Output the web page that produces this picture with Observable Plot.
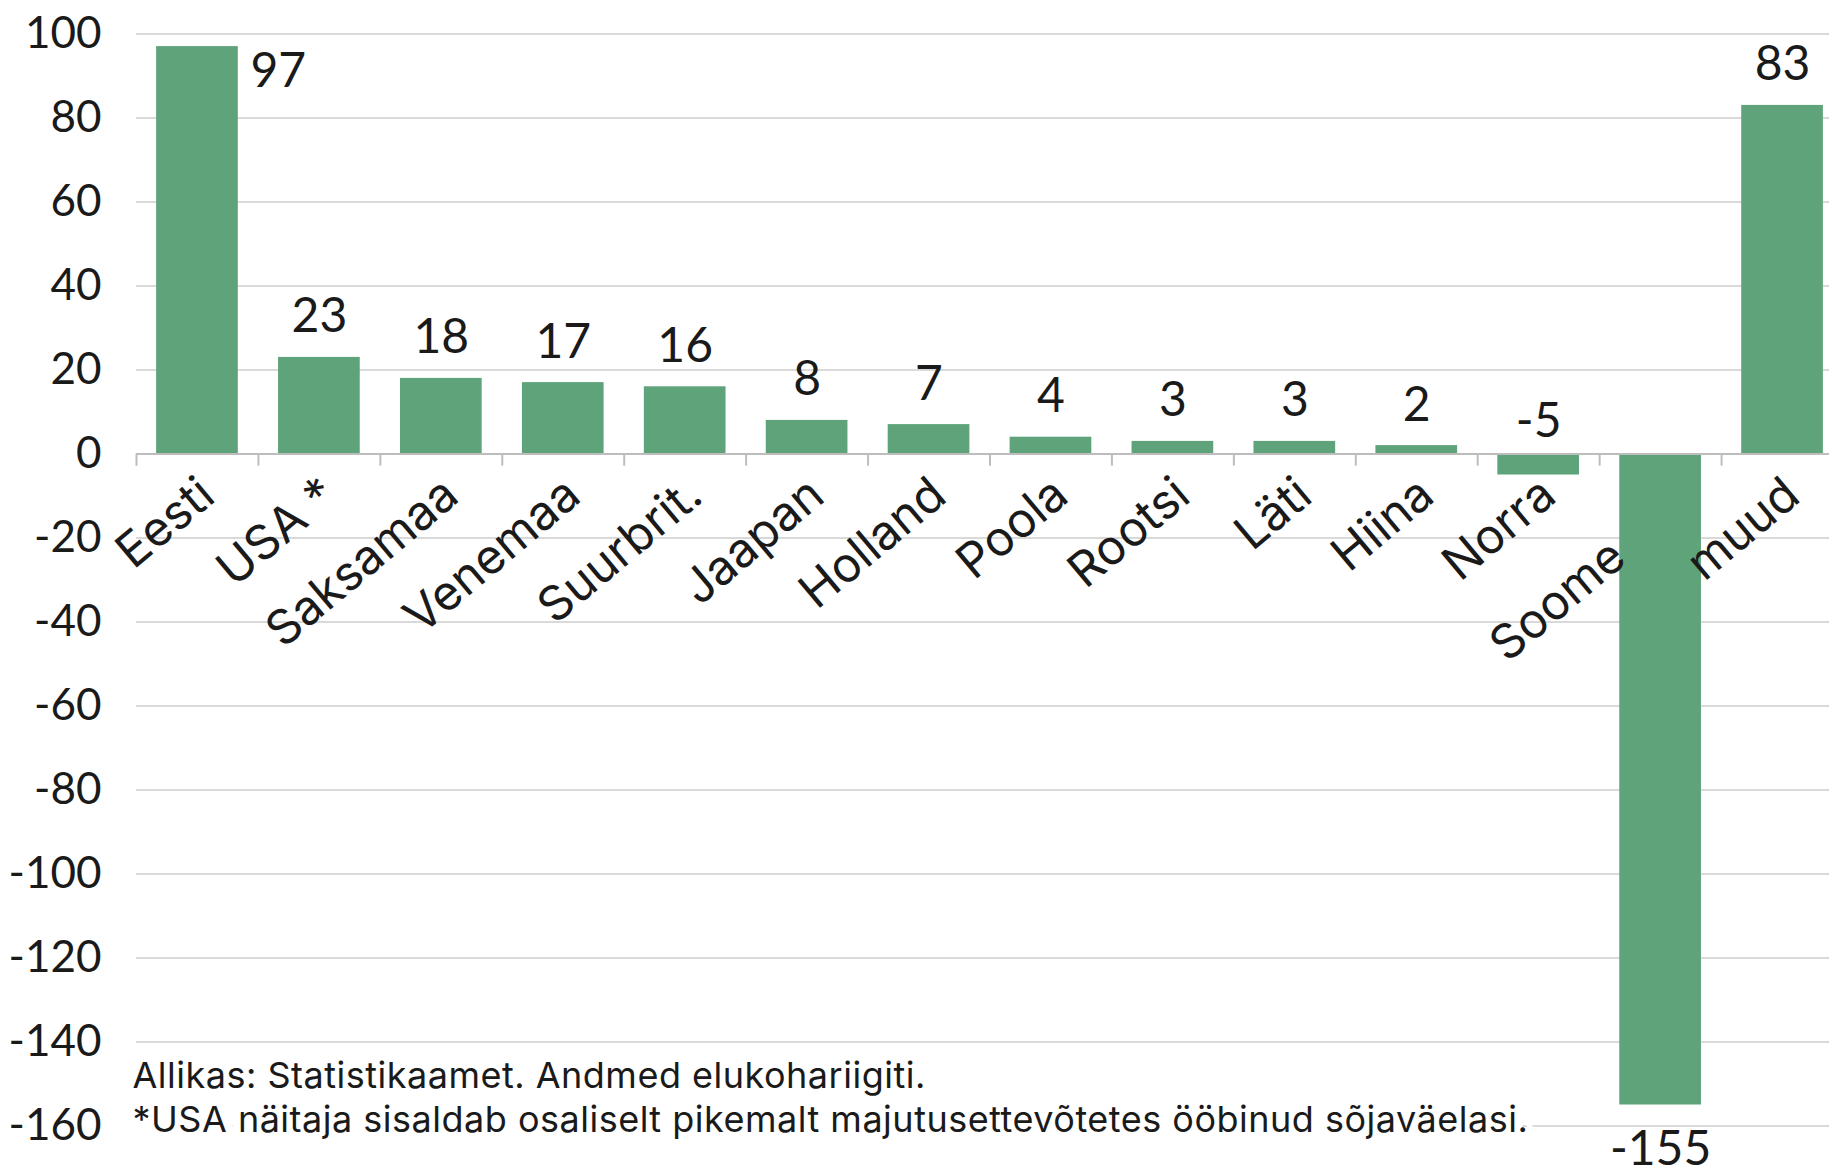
<!DOCTYPE html>
<html><head><meta charset="utf-8">
<script src="https://cdn.jsdelivr.net/npm/d3@7"></script>
<script src="https://cdn.jsdelivr.net/npm/@observablehq/plot@0.6"></script>
<style>
body{margin:0;background:#fff;}
#chart svg{display:block;max-width:none;}
</style></head><body><div id="chart"></div>
<script>
const categories = ["Eesti","USA *","Saksamaa","Venemaa","Suurbrit.","Jaapan","Holland","Poola","Rootsi","Läti","Hiina","Norra","Soome","muud"];
const values = [97,23,18,17,16,8,7,4,3,3,2,-5,-155,83];
const yTicks = [100,80,60,40,20,0,-20,-40,-60,-80,-100,-120,-140,-160];
const captionLines = ["Allikas: Statistikaamet. Andmed elukohariigiti.","*USA näitaja sisaldab osaliselt pikemalt majutusettevõtetes ööbinud sõjaväelasi."];

const data = categories.map((c, i) => ({country: c, value: values[i]}));
const W = 1829, H = 1174, left = 136, right = 1843;
const step = (right - left) / categories.length;
const wordFont = "Inter, 'Open Sans', sans-serif";
const numFont = "Lato, 'Open Sans', sans-serif";
const ink = "#1a1a1a";
const green = "#5fa37a";
const fmt = d => String(d);

const regular = data.filter(d => d.country !== "Eesti" && d.value >= 0);
const first = data.filter(d => d.country === "Eesti");
const smallNeg = data.filter(d => d.value < 0 && d.value > -50);
const bigNeg = data.filter(d => d.value <= -50);
const bigNegNames = new Set(bigNeg.map(d => d.country));
const catsNormal = categories.filter(c => !bigNegNames.has(c));
const catsShifted = categories.filter(c => bigNegNames.has(c));

const catLabel = {y: 0, text: d => d, rotate: -40, textAnchor: "end", lineAnchor: "middle", fontSize: 48, fontFamily: wordFont, fill: ink};
const valLabel = {fontSize: 48, fontFamily: numFont, fill: ink};

const plot = Plot.plot({
  width: W, height: H,
  marginLeft: left, marginRight: 0, marginTop: 33.5, marginBottom: 48.5,
  style: {fontFamily: wordFont, background: "white", color: ink, overflow: "hidden"},
  x: {domain: categories, range: [left, right], paddingInner: 0.33, paddingOuter: 0.165, round: false, axis: null},
  y: {domain: [-160, 100], axis: null},
  marks: [
    Plot.ruleY(yTicks.filter(d => d !== 0), {stroke: "#d9d9d9", strokeWidth: 2}),
    Plot.axisY(yTicks, {tickSize: 0, tickPadding: 35, fontSize: 44, fontFamily: numFont, tickFormat: fmt, fill: ink, label: null}),
    Plot.barY(data, {x: "country", y: "value", fill: green}),
    Plot.ruleY([0], {stroke: "#bdbdbd", strokeWidth: 2}),
    Plot.ruleX(categories, {x: d => d, y1: 0, y2: -2.9, dx: -step / 2, stroke: "#bdbdbd", strokeWidth: 2}),
    Plot.text(catsNormal, {...catLabel, x: d => d, dx: 10, dy: 34}),
    Plot.text(catsShifted, {...catLabel, x: d => d, dx: -42, dy: 96}),
    Plot.text(regular, {...valLabel, x: "country", y: "value", text: d => fmt(d.value), textAnchor: "middle", lineAnchor: "bottom", dy: -25}),
    Plot.text(first, {...valLabel, x: "country", y: "value", text: d => fmt(d.value), textAnchor: "start", lineAnchor: "bottom", dx: 53, dy: 40}),
    Plot.text(smallNeg, {...valLabel, x: "country", y: 0, text: d => fmt(d.value), textAnchor: "middle", lineAnchor: "bottom", dy: -17}),
    Plot.text(bigNeg, {...valLabel, x: "country", y: "value", text: d => fmt(d.value), textAnchor: "middle", lineAnchor: "top", dy: 26}),
    Plot.text([captionLines[0]], {text: d => d, frameAnchor: "bottom-left", textAnchor: "start", lineAnchor: "bottom", dx: -4, dy: -38, fontSize: 36, fill: ink, stroke: "white", strokeWidth: 16}),
    Plot.text([captionLines[1]], {text: d => d, frameAnchor: "bottom-left", textAnchor: "start", lineAnchor: "bottom", dx: -4, dy: 6, fontSize: 36, fill: ink, stroke: "white", strokeWidth: 16})
  ]
});
d3.select(plot).selectAll("text").filter(function() { return captionLines.includes(this.textContent); })
  .style("letter-spacing", "0.5px");
document.getElementById("chart").appendChild(plot);
</script>
</body></html>
